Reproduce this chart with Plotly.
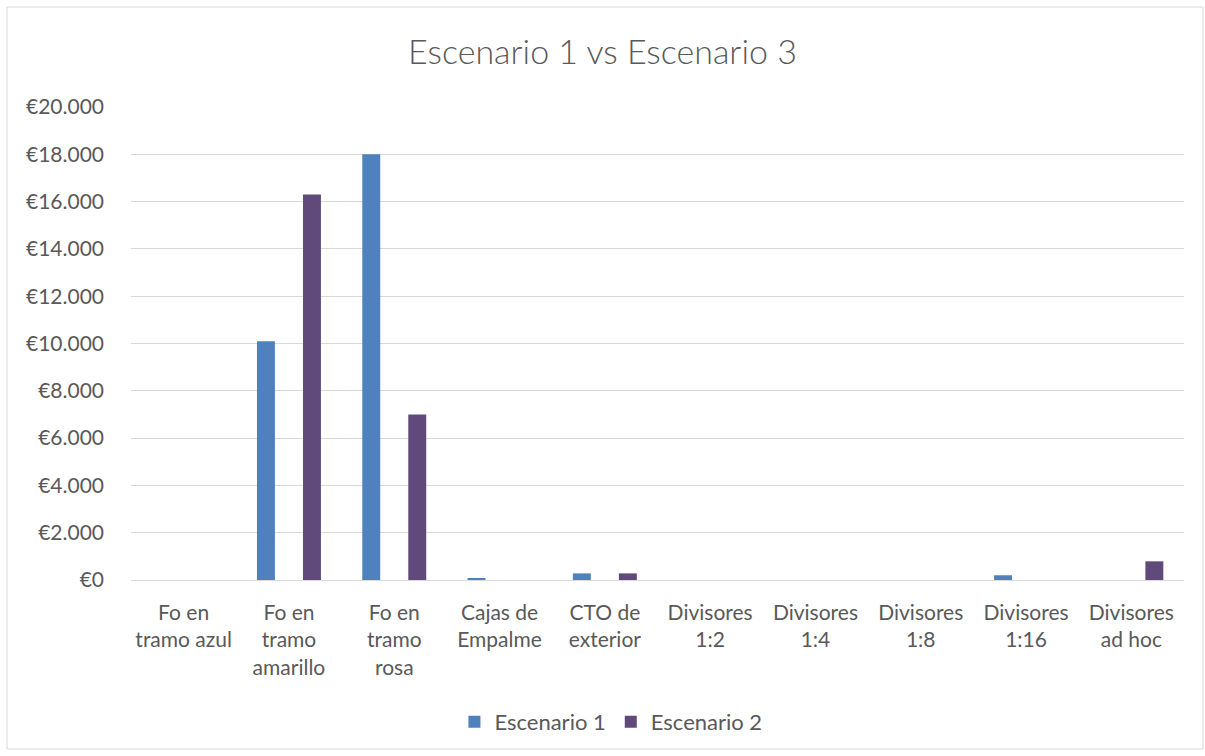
import plotly.graph_objects as go

categories = ["Fo en<br>tramo azul", "Fo en<br>tramo<br>amarillo", "Fo en<br>tramo<br>rosa",
              "Cajas de<br>Empalme", "CTO de<br>exterior", "Divisores<br>1:2", "Divisores<br>1:4",
              "Divisores<br>1:8", "Divisores<br>1:16", "Divisores<br>ad hoc"]
escenario1 = [0, 10100, 18000, 80, 280, 0, 0, 0, 200, 0]
escenario2 = [0, 16300, 7000, 0, 280, 0, 0, 0, 0, 790]
tick_vals = [0, 2000, 4000, 6000, 8000, 10000, 12000, 14000, 16000, 18000, 20000]
tick_text = ["€0", "€2.000", "€4.000", "€6.000", "€8.000", "€10.000", "€12.000",
             "€14.000", "€16.000", "€18.000", "€20.000"]

FONT = "Lato, 'Open Sans', sans-serif"
TXT = "#595959"

fig = go.Figure()
fig.add_trace(go.Bar(name="Escenario 1", x=categories, y=escenario1,
                     marker=dict(color="#4f81bd", line=dict(width=0))))
fig.add_trace(go.Bar(name="Escenario 2", x=categories, y=escenario2,
                     marker=dict(color="#604a7b", line=dict(width=0))))

fig.update_layout(
    width=1205, height=756,
    paper_bgcolor="white", plot_bgcolor="white",
    barmode="group", bargap=0.126, bargroupgap=0.61,
    margin=dict(l=131, r=21, t=107, b=176),
    font=dict(family=FONT, color=TXT, size=21),
    title=dict(text="Escenario 1 vs Escenario 3", x=0.5, xanchor="center",
               y=1 - 52 / 756, yanchor="middle",
               font=dict(size=34, color=TXT, family=FONT, weight=300)),
    legend=dict(orientation="h", x=0.507, xref="container", xanchor="center",
                y=34 / 756, yref="container",
                yanchor="middle", font=dict(size=22, color=TXT),
                traceorder="normal"),
    showlegend=True,
    xaxis=dict(showgrid=False, showline=False, ticks="", tickfont=dict(size=21, color=TXT),
               tickangle=0, ticklabelstandoff=18),
    yaxis=dict(range=[0, 20000], tickvals=tick_vals, ticktext=tick_text,
               showgrid=True, gridcolor="#d9d9d9", gridwidth=1,
               zeroline=True, zerolinecolor="#d9d9d9", zerolinewidth=1,
               showline=False, ticks="", ticklabelstandoff=26,
               tickfont=dict(size=21, color=TXT)),
)
fig.add_shape(type="rect", xref="paper", yref="paper",
              x0=-124 / 1053, x1=1072 / 1053, y0=-169 / 473, y1=(473 + 100) / 473,
              line=dict(color="#d9d9d9", width=1), fillcolor="rgba(0,0,0,0)", layer="below")
fig.write_html("out.html")
